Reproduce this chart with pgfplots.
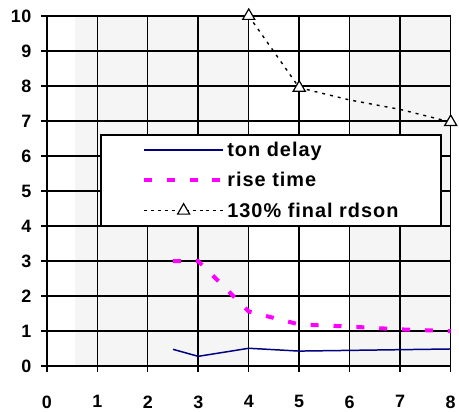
\documentclass[border=0pt]{standalone}
\usepackage{fontspec}
\setmainfont{Liberation Sans}
\newfontfamily\lgfont[LetterSpace=5]{Liberation Sans}
\newfontfamily\tkfont[LetterSpace=3]{Liberation Sans}
\usepackage{pgfplots}
\pgfplotsset{compat=1.18}
\definecolor{bgg}{HTML}{F5F5F5}
\definecolor{navyc}{HTML}{000080}
\definecolor{magc}{HTML}{FF00FF}
\begin{document}
\begin{tikzpicture}
\begin{axis}[
  name=ax,
  scale only axis,
  width=406pt, height=352pt,
  xmin=0, xmax=8, ymin=0, ymax=10,
  xtick={0,1,2,3,4,5,6,7,8}, ytick={0,1,2,3,4,5,6,7,8,9,10},
  grid=major,
  grid style={solid, black, line width=1.5pt},
  axis line style={black, line width=1.5pt},
  axis background/.style={fill=white, path picture={
    \fill[bgg] (path picture bounding box.south west) ++(27.9pt,0pt) rectangle ++(175.1pt,352pt);
    \fill[bgg] (path picture bounding box.south west) ++(304.5pt,0pt) rectangle ++(101.5pt,352pt);
  }},
  tick pos=left,
  tick align=outside,
  major tick length=6pt,
  tick style={black, line width=1.5pt},
  clip=false,
  /pgf/number format/assume math mode=true,
  ticklabel style={font=\tkfont\fontsize{18}{20}\selectfont\bfseries},
  xticklabel style={yshift=-20pt},
  yticklabel style={xshift=-6pt},
  legend cell align=left,
  legend style={at={(axis cs:1.06,6.62)}, anchor=north west,
    draw=black, line width=1.5pt, fill=white,
    font=\lgfont\fontsize{20}{22}\selectfont\bfseries,
    inner xsep=41pt, inner ysep=5pt,
    row sep=10.5pt},
  legend image code/.code={\draw[#1] plot coordinates {(0pt,0pt) (40pt,0pt) (80pt,0pt)};},
]
\addlegendimage{navyc, line width=1.5pt}
\addlegendentry{ton delay}
\addlegendimage{magc, line width=4pt, dash pattern=on 8pt off 15pt}
\addlegendentry{rise time}
\addlegendimage{black, line width=1.4pt, dash pattern=on 3pt off 4pt,
  legend image code/.code={\draw[black, line width=1.4pt, dash pattern=on 3pt off 4pt] (0pt,0pt) -- (80pt,0pt);
  \draw[black, fill=white, line width=1.2pt, solid] plot[mark=triangle*, mark size=7pt] coordinates {(40pt,0pt)};}}
\addlegendentry{130\% final rdson}

\addplot[navyc, line width=1.5pt, forget plot] coordinates {
(2.5,0.48) (3,0.28) (4,0.51) (5,0.43) (6,0.45) (7,0.47) (8,0.49)};
\addplot[magc, line width=4pt, dash pattern=on 8pt off 15pt, forget plot] coordinates {
(2.5,3) (3,3) (4,1.56) (5,1.19) (6,1.13) (7,1.05) (8,1.0)};
\addplot[black, line width=1.4pt, dash pattern=on 3pt off 5pt, forget plot] coordinates {
(4,10) (5,7.95) (6,7.6) (7,7.33) (8,6.97)};
\addplot[only marks, mark=triangle*, mark size=7pt, mark options={black, fill=white, line width=1.2pt, solid}, forget plot] coordinates {
(4,10) (5,7.95) (8,6.97)};
\end{axis}
\path (ax.south west) ++(-47pt,-44pt) coordinate (a);
\path (ax.north east) ++(6pt,16pt) coordinate (b);
\path (a) rectangle (b);
\end{tikzpicture}
\end{document}
